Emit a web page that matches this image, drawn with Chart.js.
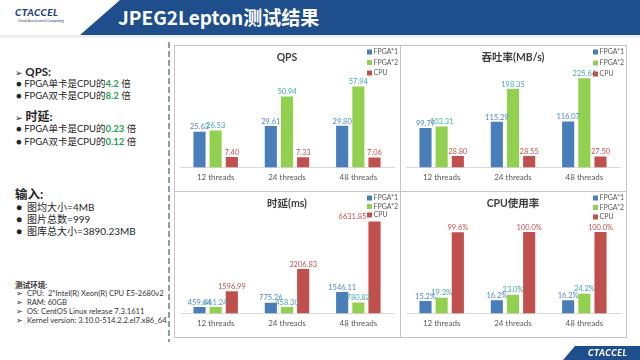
<!DOCTYPE html>
<html>
<head>
<meta charset="utf-8">
<script src="https://cdn.jsdelivr.net/npm/chart.js@4.4.0/dist/chart.umd.min.js"></script>
<style>
    body {
        margin: 0;
        width: 640px;
        height: 360px;
        overflow: hidden;
        position: relative;
        background: #fff;
        font-family: Lato, "Noto Sans CJK SC", sans-serif;
        color: #262626;
    }
    .abs { position: absolute; white-space: nowrap; }
    .hdr {
        position: absolute; left: 0; top: 0; width: 640px; height: 35px;
        background: #1f4e8d;
        clip-path: polygon(120px 0, 640px 0, 640px 35px, 80px 35px);
    }
    .hdrLine { position: absolute; left: 0; top: 35px; width: 640px; height: 3px; background: #eceff3; }
    .title {
        left: 118px; top: 4px; font-size: 19px; line-height: 26px; font-weight: 700;
        color: #fff; font-family: "Noto Sans CJK SC", sans-serif;
    }
    .logo {
        left: 15px; top: 7px; font-size: 10px; line-height: 11px; font-weight: 900;
        font-style: italic; color: #1f3f7a; letter-spacing: 0.5px;
    }
    .logoSub { left: 18px; top: 19px; font-size: 3.5px; line-height: 4px; color: #1f3f7a; }
    .head { font-weight: 700; }
    .line { font-size: 9.5px; line-height: 12px; }
    .num { color: #22a04b; font-weight: 700; }
    .env { font-size: 7.6px; line-height: 9px; color: #333; }
    .dash {
        position: absolute; left: 168px; top: 42px; width: 1.5px; height: 300px;
        background: repeating-linear-gradient(to bottom, #8b9cb6 0 6px, transparent 6px 9px);
    }
    .frame { position: absolute; border: 1px solid #c4c4c8; box-sizing: border-box; pointer-events: none; }
    canvas { position: absolute; }
    .foot {
        position: absolute; left: 0; top: 346px; width: 640px; height: 14px; background: #1f4e8d;
        clip-path: polygon(575px 0, 640px 0, 640px 14px, 563px 14px);
    }
    .footText {
        left: 588px; top: 347px; font-size: 9px; line-height: 12px; font-weight: 900;
        font-style: italic; color: #fff; letter-spacing: 0.5px;
    }
</style>
</head>
<body>
<div class="hdr"></div>
<div class="hdrLine"></div>
<div class="abs logo">CTACCEL</div>
<div class="abs logoSub">Cloud Accelerated Computing</div>
<div class="abs title">JPEG2Lepton测试结果</div>

<div class="abs head" style="left:15px;top:65px;font-size:11.5px;line-height:14px;"><span style="font-family:'DejaVu Sans';font-size:9px;">➢</span> QPS:</div>
<div class="abs line" style="left:16px;top:78px;">● FPGA单卡是CPU的<span class="num">4.2</span> 倍</div>
<div class="abs line" style="left:16px;top:90px;">● FPGA双卡是CPU的<span class="num">8.2</span> 倍</div>
<div class="abs head" style="left:15px;top:109px;font-size:12px;line-height:15px;"><span style="font-family:'DejaVu Sans';font-size:9px;">➢</span> 时延:</div>
<div class="abs line" style="left:16px;top:123px;">● FPGA单卡是CPU的<span class="num">0.23</span> 倍</div>
<div class="abs line" style="left:16px;top:136px;">● FPGA双卡是CPU的<span class="num">0.12</span> 倍</div>

<div class="abs head" style="left:15px;top:187px;font-size:12.5px;line-height:16px;">输入:</div>
<div class="abs line" style="left:16px;top:201px;font-size:10px;">●&nbsp; 图均大小=4MB</div>
<div class="abs line" style="left:16px;top:213px;font-size:10px;">●&nbsp; 图片总数=999</div>
<div class="abs line" style="left:16px;top:225px;font-size:10px;">●&nbsp; 图库总大小=3890.23MB</div>

<div class="abs env" style="left:15px;top:281px;font-weight:700;">测试环境:</div>
<div class="abs env" style="left:16px;top:289px;">➢&nbsp; CPU:&nbsp; 2*Intel(R) Xeon(R) CPU E5-2680v2</div>
<div class="abs env" style="left:16px;top:298px;">➢&nbsp; RAM: 60GB</div>
<div class="abs env" style="left:16px;top:307px;">➢&nbsp; OS: CentOS Linux release 7.3.1611</div>
<div class="abs env" style="left:16px;top:316px;">➢&nbsp; Kernel version: 3.10.0-514.2.2.el7.x86_64</div>

<div class="dash"></div>

<canvas id="qpsChart" width="226" height="146" style="left:174px;top:45px;"></canvas>
<canvas id="throughputChart" width="226" height="146" style="left:400px;top:45px;"></canvas>
<canvas id="latencyChart" width="226" height="146" style="left:174px;top:191px;"></canvas>
<canvas id="cpuUsageChart" width="226" height="146" style="left:400px;top:191px;"></canvas>

<div class="frame" style="left:174px;top:45px;width:453px;height:293px;"></div>
<div class="frame" style="left:400px;top:45px;width:1px;height:293px;border-width:0 0 0 1px;"></div>
<div class="frame" style="left:174px;top:191px;width:453px;height:1px;border-width:1px 0 0 0;"></div>

<div class="foot"></div>
<div class="abs footText">CTACCEL</div>

<script>
const categories = ['12 threads', '24 threads', '48 threads'];
const seriesNames = ['FPGA*1', 'FPGA*2', 'CPU'];

// QPS
const qpsFpga1 = [25.63, 29.61, 29.80];
const qpsFpga2 = [26.53, 50.94, 57.94];
const qpsCpu = [7.40, 7.33, 7.06];

// Throughput (MB/s)
const throughputFpga1 = [99.79, 115.29, 116.07];
const throughputFpga2 = [103.31, 198.35, 225.64];
const throughputCpu = [28.80, 28.55, 27.50];

// Latency (ms)
const latencyFpga1 = [459.64, 775.26, 1546.11];
const latencyFpga2 = [461.24, 458.30, 780.82];
const latencyCpu = [1596.99, 3206.83, 6631.85];

// CPU usage (%)
const cpuUsageFpga1 = [15.2, 16.2, 16.2];
const cpuUsageFpga2 = [19.3, 23.0, 24.2];
const cpuUsageCpu = [99.6, 100.0, 100.0];

const fontFamily = 'Lato, "Noto Sans CJK SC", sans-serif';
const barColors = ['#4a7ebb', '#92d050', '#c0504d'];
const labelColors = ['#4f86c6', '#3fa9a6', '#c0504d'];

Chart.defaults.font.family = fontFamily;
Chart.defaults.color = '#595959';

/**
 * Draws the value above each bar. A label can be nudged sideways
 * (the slide moved one out of the legend's way).
 */
const valueLabels = {
    id: 'valueLabels',
    afterDatasetsDraw(chart, args, opts) {
        const ctx = chart.ctx;
        ctx.save();
        ctx.font = '7.5px ' + fontFamily;
        ctx.textAlign = 'center';
        ctx.textBaseline = 'bottom';
        chart.data.datasets.forEach((ds, i) => {
            chart.getDatasetMeta(i).data.forEach((bar, j) => {
                let dx = 0;
                if (opts.nudge && opts.nudge.dataset === i && opts.nudge.index === j) {
                    dx = opts.nudge.dx;
                }
                ctx.fillStyle = labelColors[i];
                ctx.fillText(ds.data[j].toFixed(opts.digits) + opts.suffix, bar.x + dx, bar.y - 1);
            });
        });
        ctx.restore();
    }
};

/**
 * Small legend stacked in the top right corner.
 */
const cornerLegend = {
    id: 'cornerLegend',
    afterDraw(chart, args, opts) {
        const ctx = chart.ctx;
        const x = chart.width - 33;
        ctx.save();
        ctx.font = '7px ' + fontFamily;
        ctx.textBaseline = 'middle';
        chart.data.datasets.forEach((ds, i) => {
            const y = 7 + i * opts.step;
            ctx.fillStyle = ds.backgroundColor;
            ctx.fillRect(x, y - 2.5, 5, 5);
            ctx.fillStyle = '#595959';
            ctx.fillText(ds.label, x + 6.5, y);
        });
        ctx.restore();
    }
};

function makeChart(id, title, fpga1, fpga2, cpu, yMax, digits, suffix, legendStep, nudge) {
    const values = [fpga1, fpga2, cpu];
    return new Chart(document.getElementById(id), {
        type: 'bar',
        data: {
            labels: categories,
            datasets: values.map((data, i) => ({
                label: seriesNames[i],
                data: data,
                backgroundColor: barColors[i],
                barPercentage: 0.75,
                categoryPercentage: 0.68
            }))
        },
        options: {
            responsive: false,
            animation: false,
            devicePixelRatio: 1,
            layout: { padding: { left: 6, right: 6, top: 4, bottom: 4 } },
            plugins: {
                legend: { display: false },
                tooltip: { enabled: false },
                title: {
                    display: true,
                    text: title,
                    color: '#404040',
                    font: { size: 10.5, weight: 'bold' },
                    padding: { top: 2, bottom: 9 }
                },
                valueLabels: { digits: digits, suffix: suffix, nudge: nudge || null },
                cornerLegend: { step: legendStep }
            },
            scales: {
                x: {
                    grid: { display: false, drawTicks: false },
                    border: { display: true, color: '#d9d9d9' },
                    ticks: { color: '#595959', font: { size: 8 }, padding: 5 }
                },
                y: { display: false, min: 0, max: yMax }
            }
        },
        plugins: [valueLabels, cornerLegend]
    });
}

makeChart('qpsChart', 'QPS', qpsFpga1, qpsFpga2, qpsCpu, 68, 2, '', 10.5);
makeChart('throughputChart', '吞吐率(MB/s)', throughputFpga1, throughputFpga2, throughputCpu, 240, 2, '', 11);
makeChart('latencyChart', '时延(ms)', latencyFpga1, latencyFpga2, latencyCpu, 6840, 2, '', 8.5,
    { dataset: 2, index: 2, dx: -22 });
makeChart('cpuUsageChart', 'CPU使用率', cpuUsageFpga1, cpuUsageFpga2, cpuUsageCpu, 116.5, 1, '%', 9.5);
</script>
</body>
</html>
